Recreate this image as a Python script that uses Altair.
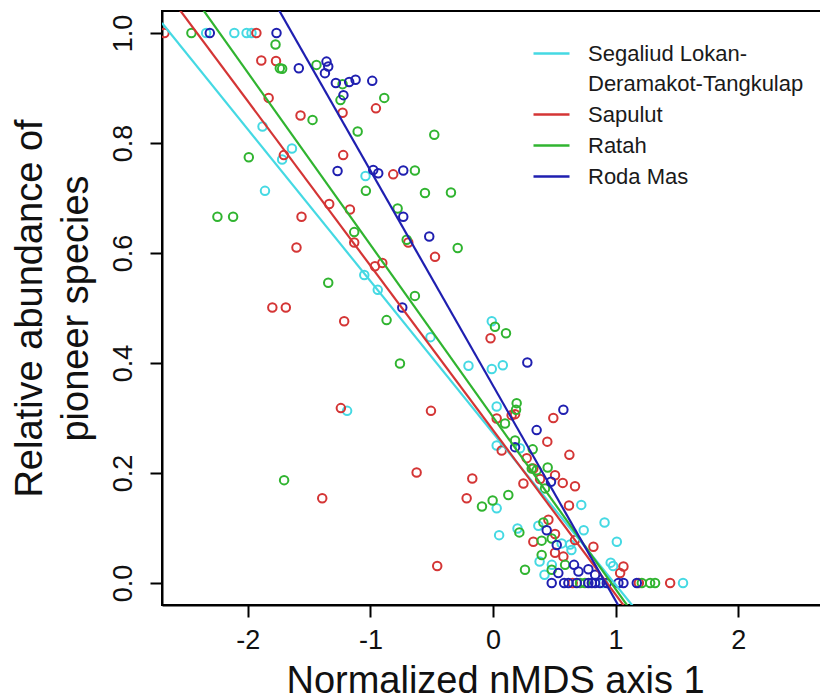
import altair as alt
import pandas as pd

FONT = "Liberation Sans"

GROUPS = ["Segaliud Lokan-Deramakot-Tangkulap", "Sapulut", "Ratah", "Roda Mas"]
COLORS = ["#45d9e3", "#d43535", "#30b430", "#1f1fb0"]

SEGALIUD = [(-2.34, 1.0), (-2.11, 1.0), (-2.01, 1.0), (-1.97, 1.0), (-1.88, 0.83), (-1.64, 0.79),
            (-1.72, 0.77), (-1.86, 0.713), (-1.04, 0.74), (-1.05, 0.56), (-0.94, 0.533), (-0.51, 0.447),
            (-1.19, 0.313), (-0.01, 0.476), (-0.20, 0.395), (-0.01, 0.389), (0.08, 0.396), (0.03, 0.321),
            (0.03, 0.25), (0.03, 0.136), (0.05, 0.087), (0.72, 0.142), (0.91, 0.11), (0.37, 0.104),
            (0.20, 0.099), (0.74, 0.096), (1.01, 0.075), (0.63, 0.07), (0.56, 0.072), (0.64, 0.06),
            (0.38, 0.039), (0.42, 0.015), (0.48, 0.033), (0.96, 0.037), (0.98, 0.031), (1.55, 0.0),
            (0.90, 0.0), (0.22, 0.245)]

SAPULUT = [(-2.68, 1.0), (-1.93, 1.0), (-1.89, 0.95), (-1.77, 0.949), (-1.83, 0.882), (-0.955, 0.863),
           (-1.227, 0.855), (-1.57, 0.85), (-1.706, 0.778), (-1.222, 0.778), (-0.814, 0.743), (-1.562, 0.666),
           (-1.336, 0.689), (-1.167, 0.679), (-1.132, 0.619), (-0.691, 0.619), (-0.473, 0.593), (-1.603, 0.61),
           (-0.963, 0.576), (-0.903, 0.582), (-1.80, 0.501), (-1.69, 0.501), (-1.214, 0.476), (-0.02, 0.445),
           (-1.241, 0.318), (-0.506, 0.313), (0.03, 0.299), (-0.623, 0.201), (-0.169, 0.19), (-1.393, 0.154),
           (-0.215, 0.154), (-0.455, 0.031), (0.152, 0.305), (0.18, 0.307), (0.492, 0.30), (0.443, 0.257),
           (0.071, 0.241), (0.623, 0.233), (0.275, 0.227), (0.329, 0.208), (0.506, 0.196), (0.384, 0.189),
           (0.569, 0.182), (0.669, 0.176), (0.248, 0.181), (0.62, 0.141), (0.452, 0.115), (0.506, 0.089),
           (0.329, 0.075), (0.669, 0.078), (0.819, 0.066), (0.506, 0.055), (0.574, 0.048), (1.064, 0.03),
           (1.037, 0.018), (1.445, 0.0), (1.19, 0.0), (0.65, 0.0)]

RATAH = [(-2.46, 1.0), (-1.774, 0.979), (-1.739, 0.936), (-1.72, 0.935), (-1.44, 0.942), (-1.227, 0.907),
         (-1.244, 0.878), (-0.887, 0.882), (-1.472, 0.842), (-1.104, 0.821), (-0.479, 0.815), (-1.992, 0.774),
         (-0.637, 0.75), (-1.037, 0.713), (-0.555, 0.709), (-0.343, 0.71), (-2.248, 0.666), (-2.12, 0.666),
         (-0.778, 0.681), (-1.132, 0.638), (-0.704, 0.624), (-0.288, 0.609), (-1.344, 0.546), (-0.637, 0.522),
         (-0.868, 0.478), (-0.759, 0.399), (0.016, 0.466), (0.106, 0.454), (-1.704, 0.187), (-0.09, 0.139),
         (-0.003, 0.15), (0.193, 0.327), (0.188, 0.315), (0.098, 0.29), (0.18, 0.259), (0.324, 0.243),
         (0.316, 0.208), (0.356, 0.205), (0.446, 0.21), (0.424, 0.172), (0.125, 0.16), (0.411, 0.11),
         (0.215, 0.092), (0.397, 0.077), (0.479, 0.081), (0.397, 0.051), (0.261, 0.024), (0.479, 0.024),
         (0.588, 0.033), (0.71, 0.0), (1.214, 0.0), (1.282, 0.0), (1.322, 0.0), (0.75, 0.0)]

RODA_MAS = [(-2.31, 1.0), (-1.766, 1.0), (-1.584, 0.936), (-1.358, 0.948), (-1.344, 0.939), (-1.371, 0.927),
            (-1.282, 0.909), (-1.173, 0.911), (-1.121, 0.915), (-0.985, 0.913), (-1.22, 0.887), (-1.268, 0.749),
            (-0.977, 0.751), (-0.936, 0.745), (-0.732, 0.75), (-0.732, 0.666), (-0.52, 0.63), (-0.74, 0.501),
            (0.28, 0.401), (0.574, 0.315), (0.356, 0.278), (0.18, 0.247), (0.473, 0.184), (0.438, 0.096),
            (0.52, 0.069), (0.533, 0.018), (0.661, 0.033), (0.697, 0.021), (0.778, 0.025), (0.833, 0.015),
            (0.479, 0.0), (0.615, 0.0), (0.683, 0.0), (0.778, 0.0), (0.806, 0.0), (0.833, 0.0), (0.873, 0.0),
            (0.928, 0.0), (1.023, 0.0), (1.064, 0.0), (1.173, 0.0), (0.58, 0.0)]

# fitted regression lines (slope, intercept) per region
SLOPES = [-0.276, -0.299, -0.313, -0.391]
INTERCEPTS = [0.273, 0.278, 0.302, 0.359]

X_DOMAIN = [-2.7, 2.7]
Y_DOMAIN = [-0.04, 1.04]
X_TICKS = [-2, -1, 0, 1, 2]
Y_TICKS = [0.0, 0.2, 0.4, 0.6, 0.8, 1.0]

rows = []
for g, pts in zip(GROUPS, [SEGALIUD, SAPULUT, RATAH, RODA_MAS]):
    for x, y in pts:
        rows.append({"group": g, "x": x, "y": y})
points_df = pd.DataFrame(rows)

line_rows = []
for g, s, b in zip(GROUPS, SLOPES, INTERCEPTS):
    for x in X_DOMAIN:
        line_rows.append({"group": g, "x": x, "y": b + s * x})
lines_df = pd.DataFrame(line_rows)

xscale = alt.Scale(domain=X_DOMAIN, nice=False, zero=False)
yscale = alt.Scale(domain=Y_DOMAIN, nice=False, zero=False)
cscale = alt.Scale(domain=GROUPS, range=COLORS)

y_axis = alt.Axis(values=Y_TICKS, format=".1f", labelAngle=270, labelAlign="center",
                  labelBaseline="bottom", labelPadding=13, labelFlush=False, grid=False,
                  title=["Relative abundance of", "pioneer species"], titleX=-113, titleY=297,
                  titleAngle=270, titleAlign="center", titleBaseline="bottom", titleLineHeight=46)

x_axis = alt.Axis(values=X_TICKS, labelExpr="'' + datum.value", labelPadding=10,
                  labelFlush=False, grid=False, title="Normalized nMDS axis 1", titleX=333, titleY=87,
                  titleBaseline="alphabetic", titleAlign="center")

legend = alt.Legend(
    title=None, orient="none", legendX=370, legendY=23, symbolType="stroke", symbolSize=1296,
    symbolStrokeWidth=2.5, labelFontSize=22, labelFont=FONT, labelColor="#1a1a1a",
    labelOffset=17, labelLimit=500, rowPadding=0, padding=0,
    labelExpr="datum.label == 'Segaliud Lokan-Deramakot-Tangkulap' ? ['Segaliud Lokan-', 'Deramakot-Tangkulap'] : datum.label",
)

points = alt.Chart(points_df).mark_point(
    shape="circle", filled=False, size=72, strokeWidth=2, opacity=1, clip=True
).encode(
    x=alt.X("x:Q", scale=xscale, axis=x_axis),
    y=alt.Y("y:Q", scale=yscale, axis=y_axis),
    color=alt.Color("group:N", scale=cscale, legend=legend),
)

lines = alt.Chart(lines_df).mark_line(strokeWidth=2.2, clip=True).encode(
    x=alt.X("x:Q", scale=xscale, axis=x_axis),
    y=alt.Y("y:Q", scale=yscale, axis=y_axis),
    color=alt.Color("group:N", scale=cscale, legend=legend),
)

# plot box runs past the right edge of the 820 px page, as in the original
chart = alt.layer(points, lines).properties(
    width=662, height=594, autosize="none",
    padding={"left": 162, "top": 11, "right": -4, "bottom": 94},
).configure(
    style={"guide-label": {"lineHeight": 30}}
).configure_view(stroke="black", strokeWidth=2).configure_axis(
    domainColor="black", domainWidth=2, tickColor="black", tickWidth=2, tickSize=12,
    labelFont=FONT, labelFontSize=27, labelColor="#111111",
    titleFont=FONT, titleFontSize=38, titleFontWeight="normal", titleColor="#111111", grid=False,
)

chart.save("out.html", embed_options={"renderer": "svg", "actions": False})
